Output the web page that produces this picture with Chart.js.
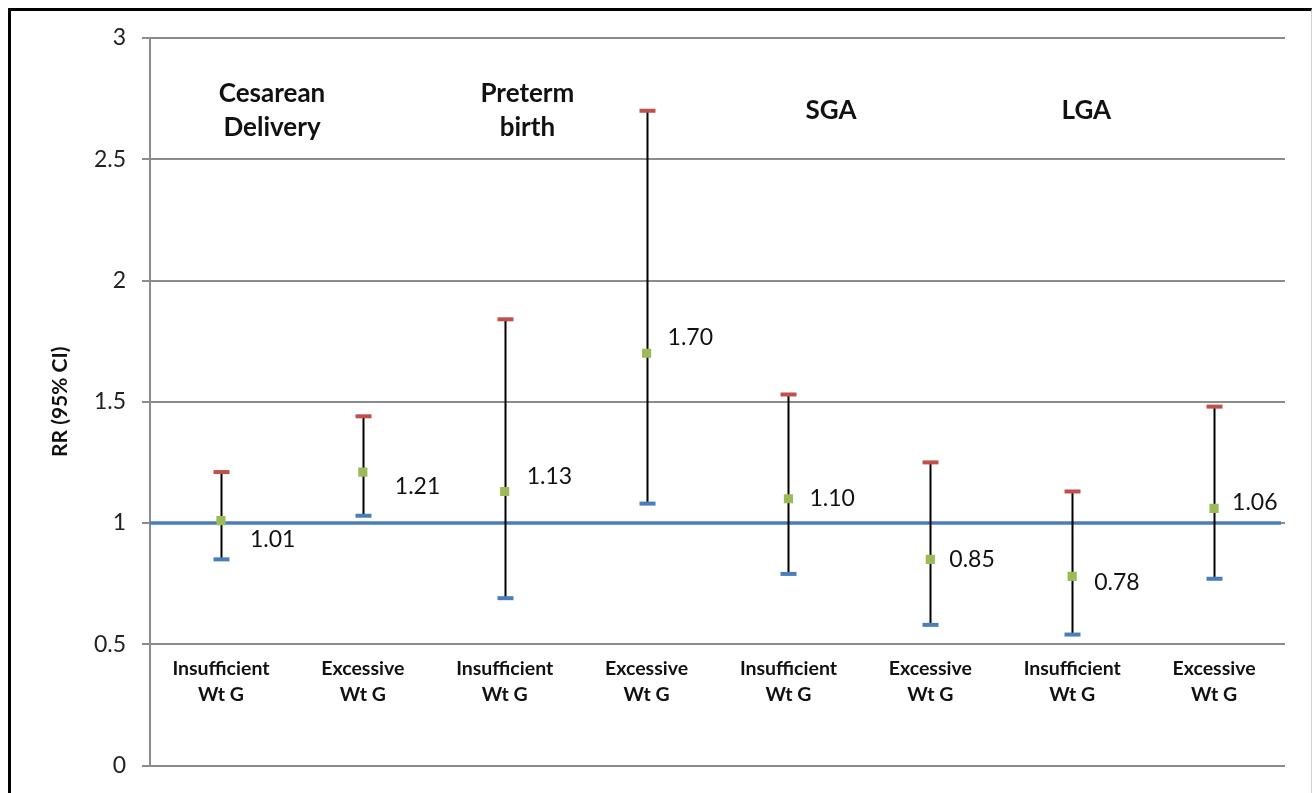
<!DOCTYPE html>
<html>
<head>
<meta charset="utf-8">
<title>RR (95% CI) by weight gain</title>
<script src="https://cdn.jsdelivr.net/npm/chart.js@4/dist/chart.umd.min.js"></script>
<style>
  html, body { margin: 0; padding: 0; background: #fff; overflow: hidden; }
  .frame {
    position: absolute; left: 8px; top: 8px;
    width: 1300px; height: 820px;
    border: 3px solid #000; border-right: 1px solid #d0d0d0;
  }
  .wrap { position: absolute; left: 0; top: 0; width: 1313px; height: 793px; }
</style>
</head>
<body>
<div class="frame"></div>
<div class="wrap"><canvas id="rrChart" width="1313" height="793"></canvas></div>

<script>
/* ── Data ───────────────────────────────────────── */
const categories = [
  ['Insufficient', 'Wt G'], ['Excessive', 'Wt G'],
  ['Insufficient', 'Wt G'], ['Excessive', 'Wt G'],
  ['Insufficient', 'Wt G'], ['Excessive', 'Wt G'],
  ['Insufficient', 'Wt G'], ['Excessive', 'Wt G']
];
const rr      = [1.01, 1.21, 1.13, 1.70, 1.10, 0.85, 0.78, 1.06];
const ciUpper = [1.21, 1.44, 1.84, 2.70, 1.53, 1.25, 1.13, 1.48];
const ciLower = [0.85, 1.03, 0.69, 1.08, 0.79, 0.58, 0.54, 0.77];
const groups  = [['Cesarean', 'Delivery'], ['Preterm', 'birth'], ['SGA'], ['LGA']];
const yTicks  = [0, 0.5, 1, 1.5, 2, 2.5, 3];
const refValue = 1;

/* ── Layout (label placement only) ──────────────── */
const groupX   = [1.36, 3.16, 5.30, 7.10];   // in category units
const groupY   = 2.70;
const labelDx  = [29, 32, 22, 21, 21, 19, 22, 18];
const labelDy  = [19, 15, -15, -16, 0, 0, 6, -6];

const FONT = 'Lato, "Open Sans", sans-serif';
const BLUE = '#4a7ebb', RED = '#c0504d', GREEN = '#9bbb59';

/* ── Plugin: ref line, CI whiskers, labels ──────── */
const forestPlugin = {
  id: 'forest',
  beforeDatasetsDraw(chart) {
    const { ctx, chartArea, scales: { x, y } } = chart;
    ctx.save();
    // reference line at RR = 1
    const yr = y.getPixelForValue(refValue);
    ctx.strokeStyle = BLUE;
    ctx.lineWidth = 3.5;
    ctx.beginPath();
    ctx.moveTo(chartArea.left, yr);
    ctx.lineTo(chartArea.right - 4, yr);
    ctx.stroke();

    rr.forEach((_, i) => {
      const px = Math.round(x.getPixelForValue(i + 1)) + 0.5;
      const yu = y.getPixelForValue(ciUpper[i]);
      const yl = y.getPixelForValue(ciLower[i]);
      ctx.strokeStyle = '#000';
      ctx.lineWidth = 2;
      ctx.beginPath();
      ctx.moveTo(px, yu);
      ctx.lineTo(px, yl);
      ctx.stroke();
      ctx.fillStyle = RED;
      ctx.fillRect(px - 8, yu - 2, 16, 4);
      ctx.fillStyle = BLUE;
      ctx.fillRect(px - 8, yl - 2, 16, 4);
    });
    ctx.restore();
  },
  afterDatasetsDraw(chart) {
    const { ctx, scales: { x, y } } = chart;
    ctx.save();
    ctx.fillStyle = '#111';

    // value labels
    ctx.font = '23px ' + FONT;
    ctx.textAlign = 'left';
    ctx.textBaseline = 'middle';
    rr.forEach((v, i) => {
      ctx.fillText(v.toFixed(2), x.getPixelForValue(i + 1) + labelDx[i],
                   y.getPixelForValue(v) + labelDy[i]);
    });

    // category labels inside the plot, below 0.5
    ctx.font = 'bold 19.5px ' + FONT;
    ctx.textAlign = 'center';
    const y05 = y.getPixelForValue(0.5);
    categories.forEach((lines, i) => {
      const px = x.getPixelForValue(i + 1);
      lines.forEach((t, k) => ctx.fillText(t, px, y05 + 24 + k * 26));
    });

    // group titles
    ctx.font = 'bold 26px ' + FONT;
    groups.forEach((lines, g) => {
      const px = x.getPixelForValue(groupX[g]);
      const cy = y.getPixelForValue(groupY);
      const lh = 34;
      const top = cy - (lines.length - 1) * lh / 2;
      lines.forEach((t, k) => ctx.fillText(t, px, top + k * lh));
    });
    ctx.restore();
  }
};

/* ── Chart ──────────────────────────────────────── */
const ctx = document.getElementById('rrChart').getContext('2d');
new Chart(ctx, {
  type: 'scatter',
  data: {
    datasets: [{
      data: rr.map((v, i) => ({ x: i + 1, y: v })),
      pointStyle: 'rect',
      pointRadius: 6.5,
      backgroundColor: GREEN,
      borderColor: GREEN,
      borderWidth: 0
    }]
  },
  options: {
    responsive: false,
    animation: false,
    layout: { padding: { left: 10, top: 38, right: 28, bottom: 26 } },
    plugins: { legend: { display: false }, tooltip: { enabled: false } },
    scales: {
      x: { type: 'linear', min: 0.5, max: 8.5, display: false },
      y: {
        min: 0, max: 3,
        afterBuildTicks: s => { s.ticks = yTicks.map(v => ({ value: v })); },
        afterFit: s => { s.width = 140; },
        ticks: {
          color: '#222',
          font: { family: FONT, size: 23, lineHeight: 1 },
          padding: 16,
          callback: v => String(v)
        },
        grid: { color: '#8c8c8c', lineWidth: 2, tickLength: 8 },
        border: { display: true, color: '#8c8c8c', width: 2 },
        title: {
          display: true,
          text: 'RR (95% CI)',
          color: '#111',
          font: { family: FONT, size: 21, weight: 'bold' },
          padding: { top: 38, bottom: 0 }
        }
      }
    }
  },
  plugins: [forestPlugin]
});
</script>
</body>
</html>
